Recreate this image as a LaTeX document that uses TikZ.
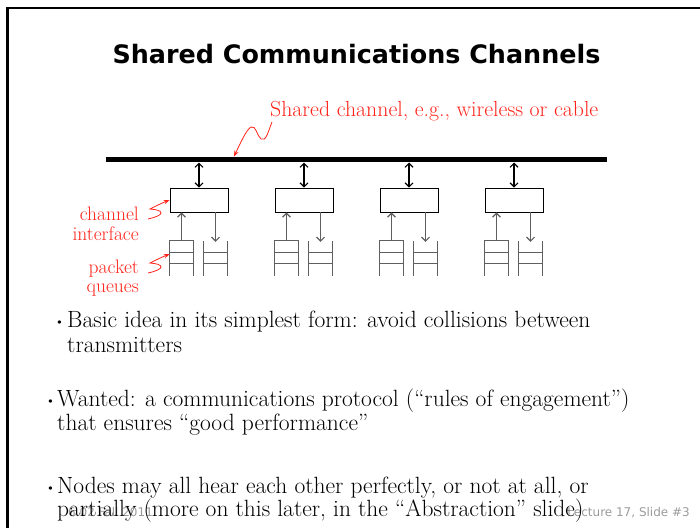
\documentclass[tikz,border=0pt]{standalone}
\usepackage{fontspec}
\usetikzlibrary{arrows.meta}
\newfontfamily\titlefont{DejaVu Sans}
\definecolor{redlab}{RGB}{255,35,25}
\definecolor{footgray}{RGB}{155,155,155}
\definecolor{qgray}{RGB}{95,95,95}
\tikzset{
  bodytext/.style={anchor=base west, inner sep=0, font=\fontsize{23.5}{28}\selectfont},
  bullettext/.style={anchor=base west, inner sep=0, font=\fontsize{15}{18}\selectfont},
  redtext/.style={anchor=base east, inner sep=0, text=redlab, font=\fontsize{19.5}{22}\selectfont},
  ifbox/.style={draw, line width=0.9pt, minimum width=58pt, minimum height=24pt, inner sep=0},
  qbox/.style={minimum width=23pt, minimum height=35pt, inner sep=0},
  qline/.style={draw=qgray, line width=1.1pt},
  barb/.style={-{Straight Barb[length=4pt,width=8pt,line width=1.1pt]}, line width=1.1pt},
  dbarb/.style={{Straight Barb[length=4pt,width=8pt,line width=1.1pt]}-{Straight Barb[length=4pt,width=8pt,line width=1.1pt]}, line width=1.1pt},
  squig/.style={draw=redlab, line width=0.8pt, -{Stealth[length=6pt,width=4.5pt]}},
  foot/.style={anchor=base, inner sep=0, text=footgray, font=\titlefont\fontsize{12}{14}\selectfont}
}
\begin{document}
\begin{tikzpicture}[x=1pt,y=-1pt]
\useasboundingbox (0,0) rectangle (700,528);
% frame
\draw[line width=2.5pt] (7.5,528) -- (7.5,8) -- (700,8);
% title
\node[anchor=base, inner sep=0, font=\titlefont\bfseries\fontsize{25.4}{30}\selectfont] (title) at (356.5,63) {Shared Communications Channels};
% bus
\coordinate (busL) at (106,159.5);
\coordinate (busR) at (607,159.5);
\draw[line width=5.5pt] (busL) -- (busR);
% shared channel label
\node[anchor=base west, inner sep=0, text=redlab, font=\fontsize{21.8}{24}\selectfont] (chlab) at (270,116) {Shared channel, e.g., wireless or cable};
\coordinate (chstart) at (272,122);
\coordinate (bustip) at (234,156.5);
\draw[squig] (chstart) .. controls (268,132) and (266,142) .. (261,139)
   .. controls (257,136) and (256,125) .. (251,127)
   .. controls (246,130) and (240,144) .. (bustip);
% stations
\foreach \i in {0,1,2,3}{
  \pgfmathsetmacro{\xo}{170+105*\i}
  \node[ifbox] (ci\i) at (\xo+29,200) {};
  \coordinate (bt\i) at (\xo+29,162.5);
  \draw[dbarb] (bt\i) -- (ci\i.north);
  \node[qbox] (ql\i) at (\xo+11.5,258.5) {};
  \node[qbox] (qr\i) at (\xo+45.5,258.5) {};
  % left queue (closed top)
  \draw[qline] (ql\i.south west) -- (ql\i.north west) -- (ql\i.north east) -- (ql\i.south east);
  \draw[qline] ([yshift=-12pt]ql\i.north west) -- ([yshift=-12pt]ql\i.north east);
  \draw[qline] ([yshift=-23pt]ql\i.north west) -- ([yshift=-23pt]ql\i.north east);
  % right queue (open top)
  \draw[qline] (qr\i.south west) -- (qr\i.north west);
  \draw[qline] (qr\i.south east) -- (qr\i.north east);
  \draw[qline] ([yshift=-12pt]qr\i.north west) -- ([yshift=-12pt]qr\i.north east);
  \draw[qline] ([yshift=-23pt]qr\i.north west) -- ([yshift=-23pt]qr\i.north east);
  % arrows
  \draw[barb, draw=qgray] (ql\i.north) -- (ql\i.north |- ci\i.south);
  \draw[barb, draw=qgray] (ci\i.south -| qr\i.north) -- ([yshift=-1pt]qr\i.north);
}
% left red labels
\node[redtext] (lchan) at (139,220) {channel};
\node[redtext] (linter) at (139,240) {interface};
\node[redtext] (lpack) at (139,273) {packet};
\node[redtext] (lqueue) at (139,292) {queues};
\coordinate (s1) at (148,219);
\coordinate (s2) at (148,273);
\draw[squig] (s1) .. controls (166,215) and (164,210) .. (150,209)
   .. controls (156,206) and (162,203) .. (ci0.west);
\draw[squig] (s2) .. controls (166,269) and (164,264) .. (150,263)
   .. controls (156,260) and (162,257) .. ([yshift=4.5pt]ql0.west);
% footer
\node[foot, anchor=base west] (f1) at (68,516) {6.02 Fall 2011};
\node[foot, anchor=base east] (f2) at (690,516) {Lecture 17, Slide \#3};
% bullets
\node[bullettext] (b1) at (54,326) {\textbullet};
\node[bodytext] (t1a) at (67,327) {Basic idea in its simplest form: avoid collisions between};
\node[bodytext] (t1b) at (67,352) {transmitters};
\node[bullettext] (b2) at (45,405) {\textbullet};
\node[bodytext] (t2a) at (57,406) {Wanted: a communications protocol (“rules of engagement”)};
\node[bodytext] (t2b) at (57,430) {that ensures “good performance”};
\node[bullettext] (b3) at (45,492) {\textbullet};
\node[bodytext] (t3a) at (57,493) {Nodes may all hear each other perfectly, or not at all, or};
\node[bodytext] (t3b) at (57,516) {partially (more on this later, in the “Abstraction” slide)};
\end{tikzpicture}
\end{document}
